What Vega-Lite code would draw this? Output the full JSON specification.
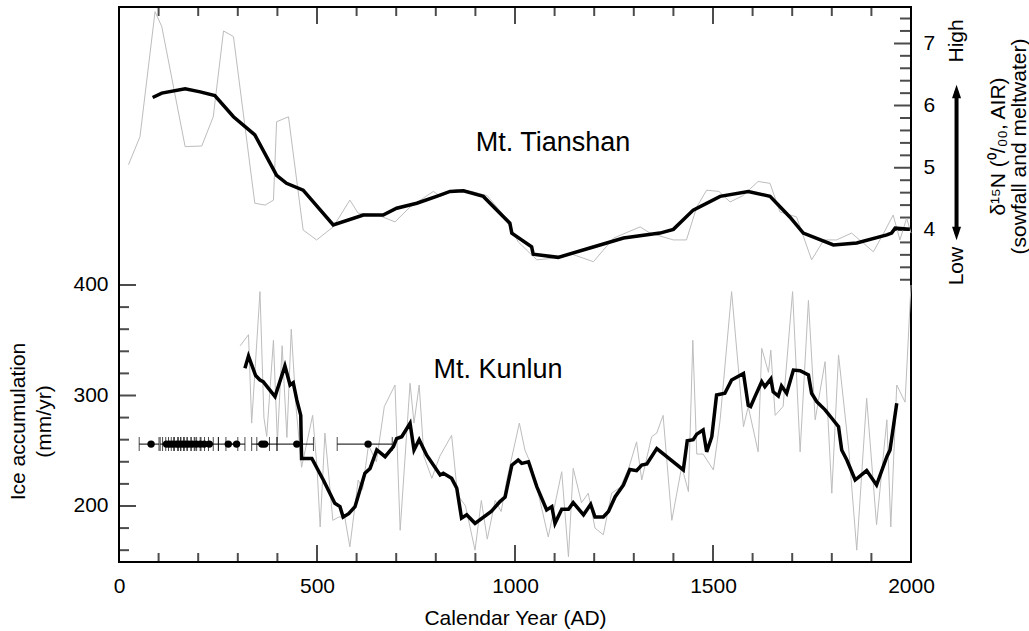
{
  "$schema": "https://vega.github.io/schema/vega-lite/v6.json",
  "width": 792,
  "height": 555,
  "autosize": "none",
  "padding": {"left": 119, "top": 7, "right": 118, "bottom": 69},
  "config": {
    "view": {"stroke": "black", "strokeWidth": 2},
    "axis": {"grid": false, "domain": false, "ticks": false, "labelFont": "Liberation Sans", "titleFont": "Liberation Sans", "labelColor": "black", "titleColor": "black", "labelFontSize": 21, "titleFontSize": 21, "titleFontWeight": "normal"}
  },
  "datasets": {
    "xMinor": [{"year": 100}, {"year": 200}, {"year": 300}, {"year": 400}, {"year": 600}, {"year": 700}, {"year": 800}, {"year": 900}, {"year": 1100}, {"year": 1200}, {"year": 1300}, {"year": 1400}, {"year": 1600}, {"year": 1700}, {"year": 1800}, {"year": 1900}],
    "xMajor": [{"year": 500}, {"year": 1000}, {"year": 1500}, {"year": 2000}],
    "yLeftMinor": [{"v": 160}, {"v": 180}, {"v": 220}, {"v": 240}, {"v": 260}, {"v": 280}, {"v": 320}, {"v": 340}, {"v": 360}, {"v": 380}],
    "yLeftMajor": [{"v": 200}, {"v": 300}, {"v": 400}],
    "yRightMinor": [{"v": 3.2}, {"v": 3.4}, {"v": 3.6}, {"v": 3.8}, {"v": 4.2}, {"v": 4.4}, {"v": 4.6}, {"v": 4.8}, {"v": 5.2}, {"v": 5.4}, {"v": 5.6}, {"v": 5.8}, {"v": 6.2}, {"v": 6.4}, {"v": 6.6}, {"v": 6.8}, {"v": 7.2}, {"v": 7.4}],
    "yRightMajor": [{"v": 4}, {"v": 5}, {"v": 6}, {"v": 7}],
    "kunlunRaw": [
      {"year": 306, "v": 345}, {"year": 327, "v": 355}, {"year": 335, "v": 275}, {"year": 356, "v": 394}, {"year": 366, "v": 280}, {"year": 373, "v": 263}, {"year": 390, "v": 350}, {"year": 400, "v": 258}, {"year": 412, "v": 345}, {"year": 424, "v": 262}, {"year": 435, "v": 360}, {"year": 447, "v": 290}, {"year": 461, "v": 235}, {"year": 470, "v": 250}, {"year": 489, "v": 282}, {"year": 500, "v": 235}, {"year": 508, "v": 181}, {"year": 520, "v": 266}, {"year": 540, "v": 187}, {"year": 555, "v": 190}, {"year": 570, "v": 190}, {"year": 583, "v": 163}, {"year": 604, "v": 223.5}, {"year": 615, "v": 215}, {"year": 630, "v": 255}, {"year": 650, "v": 240}, {"year": 670, "v": 290}, {"year": 697, "v": 309.5}, {"year": 710, "v": 178}, {"year": 735, "v": 311}, {"year": 745, "v": 275}, {"year": 758, "v": 309.5}, {"year": 770, "v": 245}, {"year": 790, "v": 225}, {"year": 810, "v": 245}, {"year": 840, "v": 264}, {"year": 855, "v": 210}, {"year": 875, "v": 200}, {"year": 899, "v": 160}, {"year": 915, "v": 205}, {"year": 930, "v": 170}, {"year": 950, "v": 205}, {"year": 965, "v": 195}, {"year": 979, "v": 223}, {"year": 1011, "v": 275}, {"year": 1025, "v": 250.7}, {"year": 1041, "v": 237}, {"year": 1059, "v": 211}, {"year": 1084, "v": 172}, {"year": 1100, "v": 200}, {"year": 1118, "v": 231}, {"year": 1135, "v": 154}, {"year": 1147, "v": 234}, {"year": 1168, "v": 203}, {"year": 1185, "v": 211.5}, {"year": 1202, "v": 180}, {"year": 1223, "v": 174}, {"year": 1244, "v": 211.5}, {"year": 1266, "v": 217}, {"year": 1287, "v": 234}, {"year": 1307, "v": 258}, {"year": 1320, "v": 223.5}, {"year": 1345, "v": 262.7}, {"year": 1358, "v": 266}, {"year": 1374, "v": 282}, {"year": 1396, "v": 187}, {"year": 1421, "v": 235.6}, {"year": 1438, "v": 213}, {"year": 1449, "v": 350}, {"year": 1459, "v": 247}, {"year": 1475, "v": 247}, {"year": 1501, "v": 232.6}, {"year": 1518, "v": 278}, {"year": 1547, "v": 394}, {"year": 1577, "v": 271.8}, {"year": 1589, "v": 290}, {"year": 1614, "v": 249}, {"year": 1623, "v": 342.7}, {"year": 1640, "v": 321}, {"year": 1646, "v": 341}, {"year": 1657, "v": 282}, {"year": 1677, "v": 290}, {"year": 1701, "v": 394}, {"year": 1720, "v": 249}, {"year": 1741, "v": 386}, {"year": 1758, "v": 278}, {"year": 1783, "v": 330.6}, {"year": 1800, "v": 211.5}, {"year": 1817, "v": 336.7}, {"year": 1843, "v": 250.7}, {"year": 1863, "v": 160}, {"year": 1888, "v": 297.5}, {"year": 1913, "v": 183}, {"year": 1939, "v": 278}, {"year": 1949, "v": 181}, {"year": 1964, "v": 309.5}, {"year": 1985, "v": 294}, {"year": 2000, "v": 400}
    ],
    "kunlunSmooth": [
      {"year": 318, "v": 324.6}, {"year": 327, "v": 335.7}, {"year": 345, "v": 318}, {"year": 356, "v": 314}, {"year": 364, "v": 312.5}, {"year": 394, "v": 299}, {"year": 419, "v": 326.7}, {"year": 432, "v": 309.5}, {"year": 440, "v": 311.6}, {"year": 449, "v": 296}, {"year": 459, "v": 282}, {"year": 461, "v": 243}, {"year": 487, "v": 243}, {"year": 516, "v": 223.5}, {"year": 545, "v": 202.4}, {"year": 558, "v": 199.4}, {"year": 566, "v": 190}, {"year": 580, "v": 193}, {"year": 596, "v": 199.4}, {"year": 621, "v": 229.6}, {"year": 634, "v": 234}, {"year": 651, "v": 250.7}, {"year": 672, "v": 244.6}, {"year": 693, "v": 253.7}, {"year": 701, "v": 261}, {"year": 714, "v": 262.7}, {"year": 735, "v": 274.8}, {"year": 745, "v": 250.7}, {"year": 758, "v": 260}, {"year": 777, "v": 246}, {"year": 811, "v": 228}, {"year": 819, "v": 229.6}, {"year": 840, "v": 225}, {"year": 853, "v": 216}, {"year": 865, "v": 189}, {"year": 878, "v": 192}, {"year": 899, "v": 184.3}, {"year": 940, "v": 195}, {"year": 962, "v": 204}, {"year": 975, "v": 208}, {"year": 992, "v": 237}, {"year": 1008, "v": 241.6}, {"year": 1017, "v": 238.6}, {"year": 1034, "v": 240}, {"year": 1055, "v": 217.5}, {"year": 1080, "v": 196.4}, {"year": 1093, "v": 199.4}, {"year": 1101, "v": 184.3}, {"year": 1118, "v": 197}, {"year": 1135, "v": 197}, {"year": 1147, "v": 203}, {"year": 1173, "v": 192}, {"year": 1191, "v": 201.5}, {"year": 1202, "v": 190}, {"year": 1223, "v": 190}, {"year": 1236, "v": 195}, {"year": 1253, "v": 208.4}, {"year": 1274, "v": 219}, {"year": 1290, "v": 233}, {"year": 1307, "v": 232}, {"year": 1320, "v": 237}, {"year": 1333, "v": 238}, {"year": 1358, "v": 252}, {"year": 1425, "v": 232.6}, {"year": 1435, "v": 259}, {"year": 1450, "v": 260}, {"year": 1459, "v": 265}, {"year": 1475, "v": 268.8}, {"year": 1484, "v": 249}, {"year": 1497, "v": 262.7}, {"year": 1509, "v": 300.5}, {"year": 1530, "v": 302}, {"year": 1547, "v": 314}, {"year": 1577, "v": 320}, {"year": 1589, "v": 291}, {"year": 1595, "v": 290}, {"year": 1606, "v": 299}, {"year": 1623, "v": 312.5}, {"year": 1631, "v": 308}, {"year": 1646, "v": 315}, {"year": 1652, "v": 303.4}, {"year": 1665, "v": 299.5}, {"year": 1673, "v": 308.6}, {"year": 1686, "v": 302}, {"year": 1703, "v": 323}, {"year": 1720, "v": 322.4}, {"year": 1741, "v": 318.6}, {"year": 1749, "v": 302}, {"year": 1762, "v": 294.4}, {"year": 1783, "v": 287}, {"year": 1800, "v": 279.4}, {"year": 1817, "v": 271.8}, {"year": 1825, "v": 250.7}, {"year": 1838, "v": 241.6}, {"year": 1859, "v": 223.5}, {"year": 1888, "v": 232}, {"year": 1913, "v": 219}, {"year": 1939, "v": 244.6}, {"year": 1947, "v": 250.7}, {"year": 1964, "v": 293}
    ],
    "errbars": [
      {"year": 81, "lo": 51, "hi": 101, "v": 256},
      {"year": 120, "lo": 104, "hi": 138, "v": 256},
      {"year": 128, "lo": 110, "hi": 150, "v": 256},
      {"year": 136, "lo": 118, "hi": 156, "v": 256},
      {"year": 145, "lo": 125, "hi": 165, "v": 256},
      {"year": 152, "lo": 132, "hi": 172, "v": 256},
      {"year": 160, "lo": 140, "hi": 182, "v": 256},
      {"year": 168, "lo": 148, "hi": 190, "v": 256},
      {"year": 176, "lo": 156, "hi": 196, "v": 256},
      {"year": 185, "lo": 163, "hi": 207, "v": 256},
      {"year": 195, "lo": 172, "hi": 216, "v": 256},
      {"year": 205, "lo": 182, "hi": 226, "v": 256},
      {"year": 215, "lo": 192, "hi": 238, "v": 256},
      {"year": 228, "lo": 205, "hi": 251, "v": 256},
      {"year": 276, "lo": 251, "hi": 300, "v": 256},
      {"year": 297, "lo": 270, "hi": 318, "v": 256},
      {"year": 361, "lo": 335, "hi": 380, "v": 256},
      {"year": 368, "lo": 348, "hi": 399, "v": 256},
      {"year": 449, "lo": 399, "hi": 491, "v": 256},
      {"year": 629, "lo": 551, "hi": 690, "v": 256}
    ],
    "labelsA": [{"year": 957, "v": 323, "label": "Mt. Kunlun"}],
    "tianRaw": [
      {"year": 24, "v": 5.05}, {"year": 53, "v": 5.5}, {"year": 91, "v": 7.51}, {"year": 108, "v": 7.27}, {"year": 167, "v": 5.34}, {"year": 209, "v": 5.35}, {"year": 238, "v": 5.82}, {"year": 264, "v": 7.2}, {"year": 289, "v": 7.11}, {"year": 343, "v": 4.43}, {"year": 369, "v": 4.4}, {"year": 390, "v": 4.48}, {"year": 398, "v": 5.74}, {"year": 428, "v": 5.82}, {"year": 465, "v": 4.0}, {"year": 499, "v": 3.84}, {"year": 541, "v": 4.05}, {"year": 583, "v": 4.48}, {"year": 604, "v": 4.27}, {"year": 650, "v": 4.25}, {"year": 697, "v": 4.13}, {"year": 735, "v": 4.37}, {"year": 794, "v": 4.62}, {"year": 811, "v": 4.54}, {"year": 850, "v": 4.65}, {"year": 891, "v": 4.62}, {"year": 930, "v": 4.55}, {"year": 970, "v": 4.25}, {"year": 1008, "v": 3.81}, {"year": 1055, "v": 3.52}, {"year": 1088, "v": 3.54}, {"year": 1140, "v": 3.62}, {"year": 1198, "v": 3.49}, {"year": 1249, "v": 3.87}, {"year": 1316, "v": 4.05}, {"year": 1341, "v": 3.95}, {"year": 1400, "v": 3.84}, {"year": 1433, "v": 3.84}, {"year": 1459, "v": 4.37}, {"year": 1484, "v": 4.64}, {"year": 1515, "v": 4.62}, {"year": 1543, "v": 4.45}, {"year": 1575, "v": 4.55}, {"year": 1614, "v": 4.78}, {"year": 1644, "v": 4.75}, {"year": 1669, "v": 4.29}, {"year": 1711, "v": 4.21}, {"year": 1749, "v": 3.52}, {"year": 1780, "v": 3.84}, {"year": 1812, "v": 3.84}, {"year": 1850, "v": 3.95}, {"year": 1905, "v": 3.65}, {"year": 1931, "v": 3.95}, {"year": 1955, "v": 4.24}, {"year": 1972, "v": 3.84}, {"year": 1989, "v": 4.19}, {"year": 2000, "v": 3.95}
    ],
    "tianSmooth": [
      {"year": 85, "v": 6.13}, {"year": 108, "v": 6.2}, {"year": 167, "v": 6.27}, {"year": 205, "v": 6.22}, {"year": 242, "v": 6.16}, {"year": 289, "v": 5.82}, {"year": 343, "v": 5.53}, {"year": 398, "v": 4.88}, {"year": 423, "v": 4.75}, {"year": 465, "v": 4.64}, {"year": 541, "v": 4.08}, {"year": 617, "v": 4.24}, {"year": 667, "v": 4.24}, {"year": 701, "v": 4.35}, {"year": 752, "v": 4.43}, {"year": 802, "v": 4.54}, {"year": 836, "v": 4.62}, {"year": 870, "v": 4.63}, {"year": 920, "v": 4.54}, {"year": 962, "v": 4.27}, {"year": 987, "v": 4.11}, {"year": 992, "v": 3.95}, {"year": 1042, "v": 3.73}, {"year": 1046, "v": 3.61}, {"year": 1109, "v": 3.56}, {"year": 1189, "v": 3.71}, {"year": 1274, "v": 3.87}, {"year": 1366, "v": 3.95}, {"year": 1400, "v": 4.01}, {"year": 1450, "v": 4.32}, {"year": 1518, "v": 4.54}, {"year": 1589, "v": 4.62}, {"year": 1644, "v": 4.54}, {"year": 1694, "v": 4.21}, {"year": 1728, "v": 3.95}, {"year": 1804, "v": 3.76}, {"year": 1863, "v": 3.79}, {"year": 1939, "v": 3.92}, {"year": 1951, "v": 3.95}, {"year": 1960, "v": 4.03}, {"year": 1997, "v": 4.01}
    ],
    "labelsB": [{"year": 1096, "v": 5.4, "label": "Mt. Tianshan"}],
    "sideText": [{"year": 2115, "v": 7.04, "label": "High"}, {"year": 2115, "v": 3.42, "label": "Low"}],
    "arrow": [{"year": 2115, "v": 6.227, "v2": 3.944}],
    "arrowUp": [{"year": 2115, "v": 6.227}],
    "arrowDown": [{"year": 2115, "v": 3.944}]
  },
  "resolve": {"scale": {"y": "independent"}, "axis": {"x": "independent", "y": "independent"}},
  "layer": [
    {
      "data": {"name": "kunlunRaw"},
      "mark": {"type": "line", "color": "#bdbdbd", "strokeWidth": 1},
      "encoding": {
        "x": {"field": "year", "type": "quantitative", "scale": {"domain": [0, 2000], "nice": false, "zero": false}, "axis": null},
        "y": {"field": "v", "type": "quantitative", "scale": {"domain": [149.3, 651.6], "nice": false, "zero": false}, "axis": null}
      }
    },
    {
      "data": {"name": "kunlunSmooth"},
      "mark": {"type": "line", "color": "black", "strokeWidth": 3.5},
      "encoding": {
        "x": {"field": "year", "type": "quantitative", "scale": {"domain": [0, 2000], "nice": false, "zero": false}, "axis": {"orient": "bottom", "values": [0, 500, 1000, 1500, 2000], "format": "d", "ticks": false, "labelPadding": 13, "labelFlush": false, "title": "Calendar Year (AD)", "titleY": 62, "titleBaseline": "alphabetic"}},
        "y": {"field": "v", "type": "quantitative", "scale": {"domain": [149.3, 651.6], "nice": false, "zero": false}, "axis": {"orient": "left", "values": [200, 300, 400], "ticks": false, "labelPadding": 11, "title": ["Ice accumulation", "(mm/yr)"], "titleAngle": 270, "titleX": -112, "titleY": 414, "titleAlign": "center", "titleBaseline": "top", "titleLineHeight": 26}}
      }
    },
    {
      "data": {"name": "xMinor"},
      "mark": {"type": "tick", "color": "black", "orient": "vertical", "size": 18, "thickness": 2, "clip": true},
      "encoding": {
        "x": {"field": "year", "type": "quantitative", "scale": {"domain": [0, 2000], "nice": false, "zero": false}, "axis": null},
        "y": {"datum": 149.3, "type": "quantitative", "scale": {"domain": [149.3, 651.6], "nice": false, "zero": false}, "axis": null}
      }
    },
    {
      "data": {"name": "xMajor"},
      "mark": {"type": "tick", "color": "black", "orient": "vertical", "size": 34, "thickness": 2, "clip": true},
      "encoding": {
        "x": {"field": "year", "type": "quantitative", "scale": {"domain": [0, 2000], "nice": false, "zero": false}, "axis": null},
        "y": {"datum": 149.3, "type": "quantitative", "scale": {"domain": [149.3, 651.6], "nice": false, "zero": false}, "axis": null}
      }
    },
    {
      "data": {"name": "xMinor"},
      "mark": {"type": "tick", "color": "black", "orient": "vertical", "size": 18, "thickness": 2, "clip": true},
      "encoding": {
        "x": {"field": "year", "type": "quantitative", "scale": {"domain": [0, 2000], "nice": false, "zero": false}, "axis": null},
        "y": {"datum": 651.6, "type": "quantitative", "scale": {"domain": [149.3, 651.6], "nice": false, "zero": false}, "axis": null}
      }
    },
    {
      "data": {"name": "xMajor"},
      "mark": {"type": "tick", "color": "black", "orient": "vertical", "size": 34, "thickness": 2, "clip": true},
      "encoding": {
        "x": {"field": "year", "type": "quantitative", "scale": {"domain": [0, 2000], "nice": false, "zero": false}, "axis": null},
        "y": {"datum": 651.6, "type": "quantitative", "scale": {"domain": [149.3, 651.6], "nice": false, "zero": false}, "axis": null}
      }
    },
    {
      "data": {"name": "yLeftMinor"},
      "mark": {"type": "tick", "color": "black", "orient": "horizontal", "size": 20, "thickness": 2, "clip": true},
      "encoding": {
        "x": {"datum": 0, "type": "quantitative", "scale": {"domain": [0, 2000], "nice": false, "zero": false}, "axis": null},
        "y": {"field": "v", "type": "quantitative", "scale": {"domain": [149.3, 651.6], "nice": false, "zero": false}, "axis": null}
      }
    },
    {
      "data": {"name": "yLeftMajor"},
      "mark": {"type": "tick", "color": "black", "orient": "horizontal", "size": 34, "thickness": 2, "clip": true},
      "encoding": {
        "x": {"datum": 0, "type": "quantitative", "scale": {"domain": [0, 2000], "nice": false, "zero": false}, "axis": null},
        "y": {"field": "v", "type": "quantitative", "scale": {"domain": [149.3, 651.6], "nice": false, "zero": false}, "axis": null}
      }
    },
    {
      "data": {"name": "yRightMinor"},
      "mark": {"type": "tick", "color": "black", "orient": "horizontal", "size": 22, "thickness": 2, "clip": true},
      "encoding": {
        "x": {"datum": 2000, "type": "quantitative", "scale": {"domain": [0, 2000], "nice": false, "zero": false}, "axis": null},
        "y": {"field": "v", "type": "quantitative", "scale": {"domain": [-1.338, 7.585], "nice": false, "zero": false}, "axis": null}
      }
    },
    {
      "data": {"name": "yRightMajor"},
      "mark": {"type": "tick", "color": "black", "orient": "horizontal", "size": 34, "thickness": 2, "clip": true},
      "encoding": {
        "x": {"datum": 2000, "type": "quantitative", "scale": {"domain": [0, 2000], "nice": false, "zero": false}, "axis": null},
        "y": {"field": "v", "type": "quantitative", "scale": {"domain": [-1.338, 7.585], "nice": false, "zero": false}, "axis": null}
      }
    },
    {
      "data": {"name": "errbars"},
      "mark": {"type": "rule", "color": "black", "strokeWidth": 1},
      "encoding": {
        "x": {"field": "lo", "type": "quantitative", "scale": {"domain": [0, 2000], "nice": false, "zero": false}, "axis": null},
        "x2": {"field": "hi"},
        "y": {"field": "v", "type": "quantitative", "scale": {"domain": [149.3, 651.6], "nice": false, "zero": false}, "axis": null}
      }
    },
    {
      "data": {"name": "errbars"},
      "mark": {"type": "tick", "color": "black", "orient": "vertical", "size": 14, "thickness": 1},
      "encoding": {
        "x": {"field": "lo", "type": "quantitative", "scale": {"domain": [0, 2000], "nice": false, "zero": false}, "axis": null},
        "y": {"field": "v", "type": "quantitative", "scale": {"domain": [149.3, 651.6], "nice": false, "zero": false}, "axis": null}
      }
    },
    {
      "data": {"name": "errbars"},
      "mark": {"type": "tick", "color": "black", "orient": "vertical", "size": 14, "thickness": 1},
      "encoding": {
        "x": {"field": "hi", "type": "quantitative", "scale": {"domain": [0, 2000], "nice": false, "zero": false}, "axis": null},
        "y": {"field": "v", "type": "quantitative", "scale": {"domain": [149.3, 651.6], "nice": false, "zero": false}, "axis": null}
      }
    },
    {
      "data": {"name": "errbars"},
      "mark": {"type": "point", "filled": true, "color": "black", "size": 55, "opacity": 1},
      "encoding": {
        "x": {"field": "year", "type": "quantitative", "scale": {"domain": [0, 2000], "nice": false, "zero": false}, "axis": null},
        "y": {"field": "v", "type": "quantitative", "scale": {"domain": [149.3, 651.6], "nice": false, "zero": false}, "axis": null}
      }
    },
    {
      "data": {"name": "labelsA"},
      "mark": {"type": "text", "font": "Liberation Sans", "fontSize": 27, "align": "center", "baseline": "middle", "color": "black"},
      "encoding": {
        "x": {"field": "year", "type": "quantitative", "scale": {"domain": [0, 2000], "nice": false, "zero": false}, "axis": null},
        "y": {"field": "v", "type": "quantitative", "scale": {"domain": [149.3, 651.6], "nice": false, "zero": false}, "axis": null},
        "text": {"field": "label"}
      }
    },
    {
      "data": {"name": "tianRaw"},
      "mark": {"type": "line", "color": "#bdbdbd", "strokeWidth": 1},
      "encoding": {
        "x": {"field": "year", "type": "quantitative", "scale": {"domain": [0, 2000], "nice": false, "zero": false}, "axis": null},
        "y": {"field": "v", "type": "quantitative", "scale": {"domain": [-1.338, 7.585], "nice": false, "zero": false}, "axis": null}
      }
    },
    {
      "data": {"name": "tianSmooth"},
      "mark": {"type": "line", "color": "black", "strokeWidth": 3.5},
      "encoding": {
        "x": {"field": "year", "type": "quantitative", "scale": {"domain": [0, 2000], "nice": false, "zero": false}, "axis": null},
        "y": {"field": "v", "type": "quantitative", "scale": {"domain": [-1.338, 7.585], "nice": false, "zero": false}, "axis": {"orient": "right", "values": [4, 5, 6, 7], "ticks": false, "labelPadding": 12, "title": ["δ¹⁵N (⁰/₀₀, AIR)", "(sowfall and meltwater)"], "titleAngle": 270, "titleX": 76, "titleY": 139, "titleAlign": "center", "titleBaseline": "top", "titleLineHeight": 21}}
      }
    },
    {
      "data": {"name": "labelsB"},
      "mark": {"type": "text", "font": "Liberation Sans", "fontSize": 27, "align": "center", "baseline": "middle", "color": "black"},
      "encoding": {
        "x": {"field": "year", "type": "quantitative", "scale": {"domain": [0, 2000], "nice": false, "zero": false}, "axis": null},
        "y": {"field": "v", "type": "quantitative", "scale": {"domain": [-1.338, 7.585], "nice": false, "zero": false}, "axis": null},
        "text": {"field": "label"}
      }
    },
    {
      "data": {"name": "sideText"},
      "mark": {"type": "text", "font": "Liberation Sans", "fontSize": 21, "align": "center", "baseline": "middle", "angle": 270, "color": "black"},
      "encoding": {
        "x": {"field": "year", "type": "quantitative", "scale": {"domain": [0, 2000], "nice": false, "zero": false}, "axis": null},
        "y": {"field": "v", "type": "quantitative", "scale": {"domain": [-1.338, 7.585], "nice": false, "zero": false}, "axis": null},
        "text": {"field": "label"}
      }
    },
    {
      "data": {"name": "arrow"},
      "mark": {"type": "rule", "color": "black", "strokeWidth": 4},
      "encoding": {
        "x": {"field": "year", "type": "quantitative", "scale": {"domain": [0, 2000], "nice": false, "zero": false}, "axis": null},
        "y": {"field": "v", "type": "quantitative", "scale": {"domain": [-1.338, 7.585], "nice": false, "zero": false}, "axis": null},
        "y2": {"field": "v2"}
      }
    },
    {
      "data": {"name": "arrowUp"},
      "mark": {"type": "point", "filled": true, "color": "black", "opacity": 1, "size": 324, "shape": "M0,-0.75L0.5,0.75L-0.5,0.75Z"},
      "encoding": {
        "x": {"field": "year", "type": "quantitative", "scale": {"domain": [0, 2000], "nice": false, "zero": false}, "axis": null},
        "y": {"field": "v", "type": "quantitative", "scale": {"domain": [-1.338, 7.585], "nice": false, "zero": false}, "axis": null}
      }
    },
    {
      "data": {"name": "arrowDown"},
      "mark": {"type": "point", "filled": true, "color": "black", "opacity": 1, "size": 324, "shape": "M0,0.75L0.5,-0.75L-0.5,-0.75Z"},
      "encoding": {
        "x": {"field": "year", "type": "quantitative", "scale": {"domain": [0, 2000], "nice": false, "zero": false}, "axis": null},
        "y": {"field": "v", "type": "quantitative", "scale": {"domain": [-1.338, 7.585], "nice": false, "zero": false}, "axis": null}
      }
    }
  ]
}
